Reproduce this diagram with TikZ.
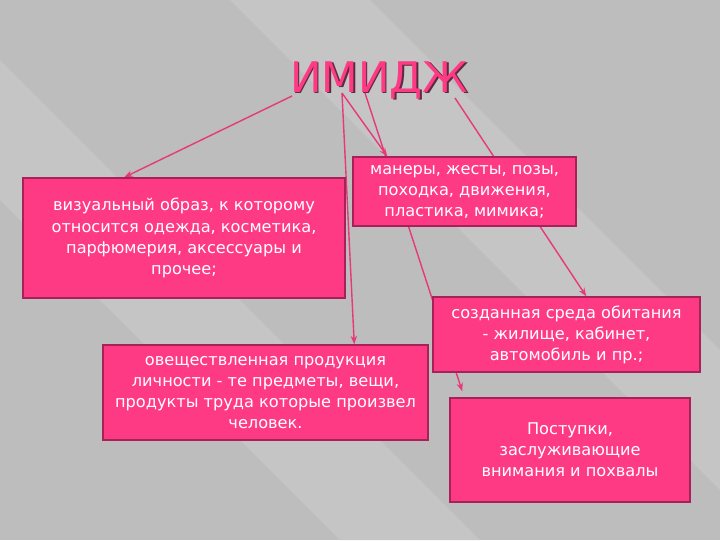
\documentclass[tikz,border=0pt]{standalone}
\usepackage{fontspec}
\setmainfont{DejaVu Sans}
\usetikzlibrary{arrows.meta}
\usetikzlibrary{calc}
\usetikzlibrary{positioning}

\definecolor{rose}{HTML}{FF3A85}
\definecolor{roseline}{HTML}{A8225A}
\definecolor{linkred}{HTML}{E63A78}
\definecolor{bggray}{HTML}{BDBDBD}
\definecolor{bglight}{HTML}{C5C5C5}
\definecolor{titleshade}{HTML}{5E2A40}

\pgfdeclarelayer{back}
\pgfsetlayers{back,main}

\begin{document}
\begin{tikzpicture}[x=0.025cm,y=-0.025cm,
    box/.style={draw=roseline,fill=rose,line width=1pt,text=white,align=center,
      font=\fontsize{11.5}{15}\selectfont,inner sep=0pt},
    link/.style={draw=linkred,line width=1pt,-{Stealth[scale=0.8]}}]
  \useasboundingbox (0,0) rectangle (720,540);

  % title
  \node[anchor=base,text=titleshade,font=\fontsize{30}{30}\selectfont] (titleshadow) at (380.5,93.5) {ИМИДЖ};
  \node[anchor=base,text=rose,font=\fontsize{30}{30}\selectfont] (title) at (379,92) {ИМИДЖ};

  % boxes
  \node[box,minimum width=8.05cm,minimum height=3cm] (visual) at (184,238)
    {визуальный образ, к которому\\относится одежда, косметика,\\парфюмерия, аксессуары и\\прочее;};
  \node[box,minimum width=5.575cm,minimum height=1.725cm] (manner) at (464.5,191.5)
    {манеры, жесты, позы,\\походка, движения,\\пластика, мимика;};
  \node[box,minimum width=8.125cm,minimum height=2.375cm] (product) at (265.5,392.5)
    {овеществленная продукция\\личности - те предметы, вещи,\\продукты труда которые произвел\\человек.};
  \node[box,minimum width=6.675cm,minimum height=1.875cm] (habitat) at (566.5,334.5)
    {созданная среда обитания\\- жилище, кабинет,\\автомобиль и пр.;};
  \node[box,minimum width=6cm,minimum height=2.6cm] (deeds) at (570,450)
    {Поступки,\\заслуживающие\\внимания и похвалы};

  \begin{pgfonlayer}{back}
    % background
    \fill[bggray] (0,0) rectangle (720,540);
    \fill[bglight] (0,60) -- (0,200) -- (340,540) -- (480,540) -- cycle;
    \fill[bglight] (230,0) -- (370,0) -- (720,350) -- (720,490) -- cycle;
    % connectors
    \draw[link] ($(title.base)+(-87,4)$) -- ($(visual.north west)+(102,0)$);
    \draw[link] ($(title.base)+(-37,1)$) -- ($(product.north west)+(252,0)$);
    \draw[link] ($(title.base)+(-37,1)$) -- ($(manner.north west)+(35,0)$);
    \draw[link] ($(title.base)+(-14,1)$) -- ($(deeds.north west)+(13,-6)$);
    \draw[link] ($(title.base)+(76,6)$) -- ($(habitat.north west)+(154,0)$);
  \end{pgfonlayer}
\end{tikzpicture}
\end{document}
